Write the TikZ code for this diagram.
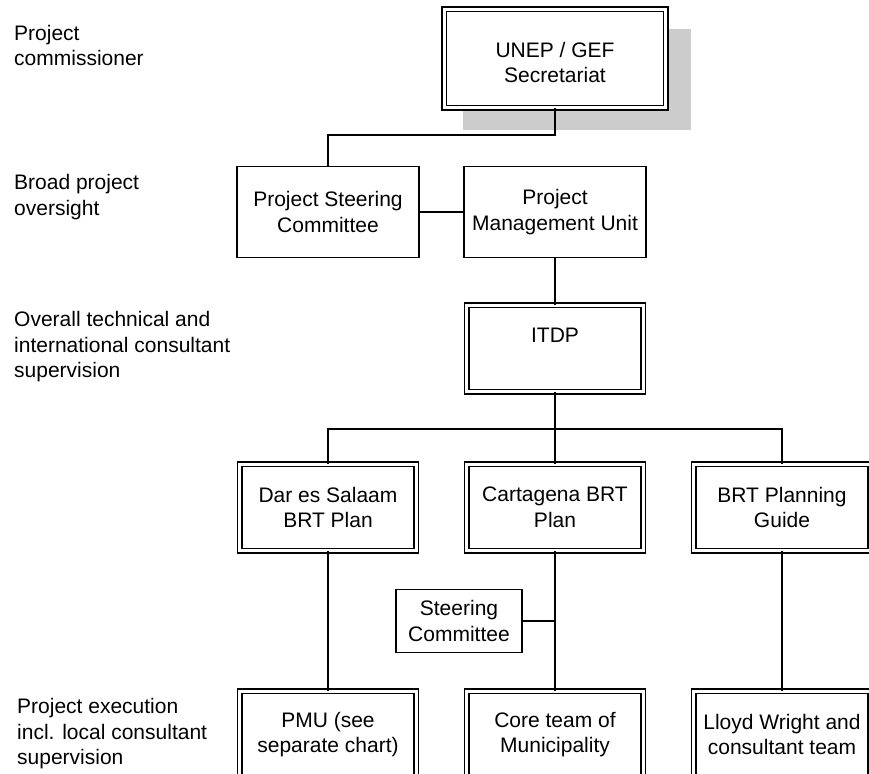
\documentclass[tikz,border=0pt]{standalone}
\usepackage{fontspec}
\setmainfont{Liberation Sans}
\usetikzlibrary{backgrounds}

\begin{document}
\begin{tikzpicture}[x=1pt, y=-1pt,
    every node/.style={font=\fontsize{21}{25.5}\selectfont, align=center, inner sep=2pt},
    box/.style={draw, fill=white, line width=1.6pt, minimum width=182pt, minimum height=91pt},
    dbox/.style={draw, fill=white, line width=1.2pt, double, double distance=3.3pt,
        minimum width=176.5pt, minimum height=86.5pt},
    conn/.style={line width=1.8pt},
    lvl/.style={anchor=west, align=left}]
    \useasboundingbox (0,0) rectangle (869,773);
    \clip (0,0) rectangle (869,773);

    % level captions
    \node[lvl] (l1) at (12,45.5) {Project\\commissioner};
    \node[lvl] (l2) at (12,197) {Broad project\\oversight};
    \node[lvl] (l3) at (12,347) {Overall technical and\\international consultant\\supervision};
    \node[lvl] (l4) at (15,734) {Project execution\\incl. local consultant\\supervision};

    % boxes
    \node[dbox, minimum width=221.5pt, minimum height=98.5pt, text height=48.5pt] (unep) at (555,58.5) {UNEP / GEF\\Secretariat};
    \node[box] (psc) at (328,212) {Project Steering\\Committee};
    \node[box] (pmu) at (555,212) {Project\\Management Unit};
    \node[dbox] (itdp) at (555,348.5) {ITDP\\ \mbox{}};

    \node[dbox] (dar) at (328,507.5) {Dar es Salaam\\BRT Plan};
    \node[dbox] (cart) at (555,507.5) {Cartagena BRT\\Plan};
    \node[dbox] (guide) at (782,507.5) {BRT Planning\\Guide};

    \node[box, minimum width=126pt, minimum height=63pt] (steer) at (459,621) {Steering\\Committee};

    \node[dbox] (pmux) at (328,734.5) {PMU (see\\separate chart)};
    \node[dbox] (core) at (555,734.5) {Core team of\\Municipality};
    \node[dbox] (lloyd) at (782,734.5) {Lloyd Wright and\\consultant team};

    % shadow behind the top box
    \begin{scope}[on background layer]
        \fill[gray!40] ([xshift=19pt,yshift=-20pt]unep.north west) rectangle ([xshift=25pt,yshift=-22pt]unep.south east);
    \end{scope}

    % connectors
    \draw[conn] (unep.south) -- ++(0,26.75) -| (psc.north);
    \draw[conn] (psc.east) -- (pmu.west);
    \draw[conn] (pmu.south) -- (itdp.north);
    \draw[conn] (itdp.south) -- ++(0,36.25) coordinate (bus);
    \draw[conn] (dar.north) |- (bus) -| (guide.north);
    \draw[conn] (bus) -- (cart.north);
    \draw[conn] (dar.south) -- (pmux.north);
    \draw[conn] (cart.south) -- (core.north);
    \draw[conn] (guide.south) -- (lloyd.north);
    \draw[conn] (steer.east) -- (steer.east -| cart.south);
\end{tikzpicture}
\end{document}
